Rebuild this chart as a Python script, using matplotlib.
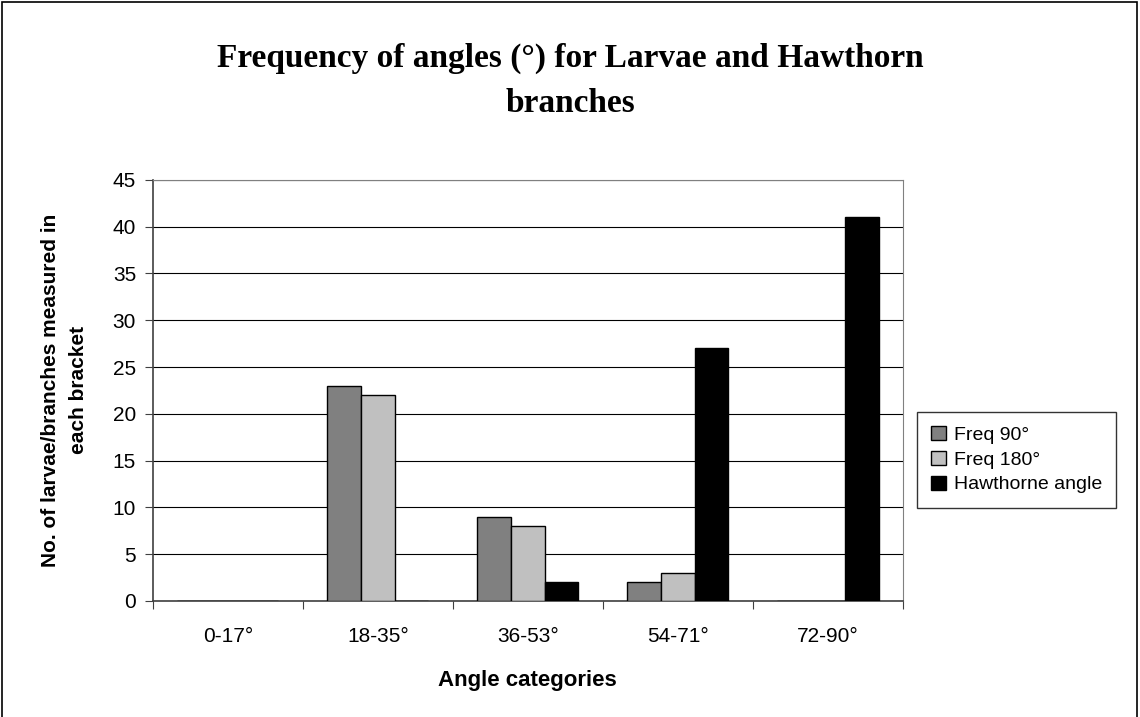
import numpy as np
import matplotlib
matplotlib.use('Agg')
import matplotlib.pyplot as plt
from matplotlib.patches import Rectangle

categories = ['0-17°', '18-35°', '36-53°', '54-71°', '72-90°']
freq_90 = [0, 23, 9, 2, 0]
freq_180 = [0, 22, 8, 3, 0]
hawthorne = [0, 0, 2, 27, 41]

plt.rcParams['font.family'] = ['Liberation Sans', 'DejaVu Sans']

fig = plt.figure(figsize=(11.4, 7.17), dpi=100)
fig.patches.append(Rectangle((0.002, -0.01), 0.995, 1.007, transform=fig.transFigure,
                             fill=False, edgecolor='black', linewidth=1.2))
ax = fig.add_axes([0.134, 0.162, 0.658, 0.587])

x = np.arange(len(categories))
w = 0.225
ax.bar(x - w, freq_90, w, color='#808080', edgecolor='black', linewidth=1, label='Freq 90°', zorder=3)
ax.bar(x, freq_180, w, color='#c0c0c0', edgecolor='black', linewidth=1, label='Freq 180°', zorder=3)
ax.bar(x + w, hawthorne, w, color='black', edgecolor='black', linewidth=1, label='Hawthorne angle', zorder=3)

ax.set_xlim(-0.5, 4.5)
ax.set_ylim(0, 45)
ax.set_yticks(range(0, 46, 5))
ax.yaxis.grid(True, color='black', linewidth=0.8, zorder=0)
ax.set_xticks(np.arange(-0.5, 5, 1))
ax.set_xticklabels([])
ax.set_xticks(x, minor=True)
ax.set_xticklabels(categories, minor=True)
ax.tick_params(axis='x', which='minor', length=0, labelsize=15, pad=19)
ax.tick_params(axis='x', which='major', length=6, color='#404040')
ax.tick_params(axis='y', length=6, labelsize=15, color='#404040', pad=6)
for s in ['top', 'right']:
    ax.spines[s].set_color('#808080')
for s in ['left', 'bottom']:
    ax.spines[s].set_color('#404040')
    ax.spines[s].set_linewidth(1.2)

ax.set_xlabel('Angle categories', fontsize=16, fontweight='bold', labelpad=17)
ax.set_ylabel('No. of larvae/branches measured in\neach bracket', fontsize=15,
              fontweight='bold', linespacing=1.6)
ax.yaxis.set_label_coords(-0.086, 0.5)

fig.text(0.5, 0.918, 'Frequency of angles (°) for Larvae and Hawthorn',
         ha='center', va='center', fontsize=24, fontweight='bold', family='Liberation Serif')
fig.text(0.5, 0.856, 'branches', ha='center', va='center', fontsize=24,
         fontweight='bold', family='Liberation Serif')

leg = fig.legend(loc='upper left', bbox_to_anchor=(0.804, 0.426), fontsize=14,
                 frameon=True, fancybox=False, edgecolor='black',
                 handlelength=0.75, handleheight=0.75, handletextpad=0.4,
                 borderpad=0.75, labelspacing=0.35, borderaxespad=0)
leg.get_frame().set_linewidth(1)

fig.savefig('out.png', dpi=100)
